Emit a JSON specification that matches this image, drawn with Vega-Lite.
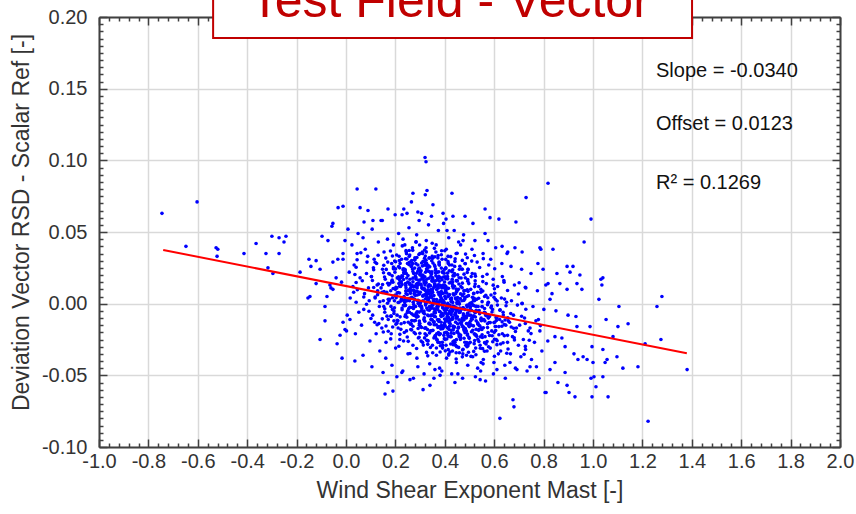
{
"$schema": "https://vega.github.io/schema/vega-lite/v6.json",
"width": 741, "height": 430,
"autosize": {"type": "none"},
"padding": {"left": 99, "top": 17, "right": 16, "bottom": 67},
"background": "white",
"config": {
  "view": {"stroke": null},
  "font": "Liberation Sans",
  "axis": {"domainColor": "#404040", "domainWidth": 2, "tickColor": "#404040", "tickWidth": 1.5, "labelFontSize": 20, "labelColor": "#333333", "titleFontSize": 23, "titleFontWeight": "normal", "titleColor": "#333333", "labelFlush": false, "labelOverlap": false, "labelBound": false, "gridColor": "#d9d9d9", "gridWidth": 1.5}
},
"datasets": {
"pts": [
{"x":-0.745,"y":0.063},{"x":-0.603,"y":0.071},{"x":-0.648,"y":0.040},{"x":-0.526,"y":0.039},{"x":-0.519,"y":0.038},{"x":-0.522,"y":0.033},{"x":-0.413,"y":0.035},{"x":-0.364,"y":0.042},{"x":-0.300,"y":0.047},{"x":-0.271,"y":0.046},{"x":-0.243,"y":0.047},{"x":-0.251,"y":0.043},{"x":-0.324,"y":0.035},{"x":-0.271,"y":0.035},{"x":-0.316,"y":0.025},{"x":-0.296,"y":0.021},{"x":-0.186,"y":0.022},{"x":-0.150,"y":0.031},{"x":-0.142,"y":0.026},{"x":-0.121,"y":0.030},{"x":-0.097,"y":0.047},{"x":-0.105,"y":0.024},{"x":-0.073,"y":0.044},{"x":-0.057,"y":0.054},{"x":-0.053,"y":0.056},{"x":-0.032,"y":0.067},{"x":-0.012,"y":0.068},{"x":0.045,"y":0.080},{"x":0.121,"y":0.080},{"x":0.057,"y":0.067},{"x":0.089,"y":0.065},{"x":0.073,"y":0.057},{"x":0.109,"y":0.058},{"x":0.142,"y":0.058},{"x":0.170,"y":0.066},{"x":0.271,"y":0.077},{"x":0.328,"y":0.079},{"x":0.320,"y":0.102},{"x":0.324,"y":0.099},{"x":0.227,"y":0.062},{"x":0.247,"y":0.063},{"x":0.291,"y":0.064},
{"x":-0.146,"y":0.005},{"x":-0.154,"y":0.004},{"x":-0.121,"y":0.014},{"x":-0.085,"y":-0.002},{"x":-0.077,"y":0.005},{"x":-0.061,"y":0.011},{"x":-0.040,"y":0.018},{"x":-0.085,"y":-0.012},{"x":-0.105,"y":-0.025},{"x":-0.036,"y":-0.028},{"x":-0.016,"y":-0.038},{"x":0.036,"y":-0.040},{"x":0.069,"y":-0.036},{"x":0.105,"y":-0.044},{"x":0.150,"y":-0.048},{"x":0.158,"y":-0.063},{"x":0.190,"y":-0.061},{"x":0.206,"y":-0.051},{"x":-0.004,"y":-0.018},{"x":0.016,"y":-0.011},{"x":-0.024,"y":-0.022},{"x":-0.053,"y":0.010},{"x":-0.065,"y":0.013},{"x":-0.012,"y":-0.013},{"x":-0.053,"y":0.029},{"x":-0.012,"y":0.035},{"x":-0.033,"y":0.031},
{"x":0.429,"y":0.077},{"x":0.352,"y":0.069},{"x":0.405,"y":0.059},{"x":0.393,"y":0.063},{"x":0.433,"y":0.061},{"x":0.482,"y":0.061},{"x":0.409,"y":0.051},{"x":0.514,"y":0.056},{"x":0.563,"y":0.066},{"x":0.583,"y":0.060},{"x":0.619,"y":0.059},{"x":0.563,"y":0.049},{"x":0.474,"y":0.044},{"x":0.522,"y":0.044},{"x":0.632,"y":0.040},{"x":0.652,"y":0.035},{"x":0.713,"y":0.036},{"x":0.729,"y":0.074},{"x":0.688,"y":0.057},{"x":0.785,"y":0.039},{"x":0.838,"y":0.038},{"x":0.789,"y":0.038},{"x":0.818,"y":0.084},{"x":0.992,"y":0.059},{"x":0.964,"y":0.043},
{"x":1.279,"y":0.005},{"x":1.259,"y":-0.002},{"x":1.275,"y":-0.025},{"x":1.211,"y":-0.028},{"x":1.381,"y":-0.046},{"x":1.223,"y":-0.082},{"x":1.182,"y":-0.044},{"x":1.121,"y":-0.045},{"x":1.105,"y":-0.002},{"x":1.142,"y":-0.014},{"x":1.101,"y":-0.016},{"x":1.097,"y":-0.037},{"x":1.061,"y":-0.065},{"x":1.040,"y":0.018},{"x":1.036,"y":0.013},{"x":1.032,"y":0.017},{"x":1.024,"y":0.003},{"x":1.053,"y":-0.011},{"x":1.081,"y":-0.023},{"x":1.040,"y":-0.032},{"x":1.049,"y":-0.041},{"x":1.057,"y":-0.039},{"x":1.000,"y":-0.041},{"x":0.996,"y":-0.030},{"x":0.988,"y":-0.016},{"x":0.996,"y":-0.065},{"x":1.012,"y":-0.058},{"x":0.992,"y":-0.052},{"x":1.004,"y":-0.051},{"x":1.040,"y":-0.051},{"x":0.927,"y":-0.065},{"x":0.903,"y":-0.062},{"x":0.895,"y":-0.057},{"x":0.858,"y":-0.055},{"x":0.887,"y":-0.048},{"x":0.810,"y":-0.062},{"x":0.781,"y":-0.052},{"x":0.826,"y":-0.046},{"x":0.846,"y":-0.041},{"x":0.923,"y":-0.035},{"x":0.939,"y":-0.039},{"x":0.960,"y":-0.037},{"x":0.976,"y":-0.039},{"x":0.935,"y":-0.016},{"x":0.931,"y":-0.009},{"x":0.899,"y":-0.008},{"x":0.895,"y":0.010},{"x":0.955,"y":0.010},{"x":0.935,"y":0.014},{"x":0.895,"y":0.026},{"x":0.919,"y":0.026},{"x":0.907,"y":0.022},{"x":0.947,"y":0.020},{"x":0.866,"y":0.014},{"x":0.854,"y":0.021},{"x":0.818,"y":0.014},{"x":0.834,"y":0.007},{"x":0.826,"y":0.003},{"x":0.850,"y":-0.005},{"x":0.846,"y":-0.023},{"x":0.874,"y":-0.024},{"x":0.887,"y":-0.030},{"x":0.777,"y":0.028},{"x":0.676,"y":-0.067},{"x":0.680,"y":-0.072},{"x":0.623,"y":-0.080},{"x":0.611,"y":-0.046},{"x":0.547,"y":-0.041},{"x":0.555,"y":-0.042},{"x":0.543,"y":-0.053},{"x":0.441,"y":-0.055},{"x":0.453,"y":-0.049},{"x":0.692,"y":-0.046},{"x":0.745,"y":-0.044},
{"x":0.259,"y":-0.053},{"x":0.340,"y":-0.057},{"x":0.170,"y":-0.055},{"x":0.291,"y":-0.044},{"x":0.381,"y":-0.050},{"x":0.664,"y":-0.041},{"x":0.806,"y":-0.062},{"x":0.230,"y":-0.047},{"x":0.312,"y":-0.060},{"x":0.360,"y":-0.046},
{"x":-0.012,"y":0.031},{"x":0.005,"y":-0.008},{"x":0.013,"y":0.022},{"x":-0.004,"y":0.044},{"x":0.017,"y":0.004},{"x":0.008,"y":0.052},{"x":-0.018,"y":0.015},{"x":0.002,"y":-0.019},
{"x":0.028,"y":0.012},{"x":0.045,"y":0.035},{"x":0.052,"y":-0.006},{"x":0.033,"y":0.027},{"x":0.041,"y":0.001},{"x":0.057,"y":0.018},{"x":0.024,"y":0.041},{"x":0.038,"y":-0.021},{"x":0.049,"y":0.049},{"x":0.031,"y":0.008},
{"x":0.066,"y":0.016},{"x":0.072,"y":-0.004},{"x":0.085,"y":0.029},{"x":0.091,"y":0.011},{"x":0.078,"y":0.038},{"x":0.063,"y":-0.015},{"x":0.094,"y":0.002},{"x":0.083,"y":0.021},{"x":0.069,"y":0.046},{"x":0.097,"y":-0.026},{"x":0.075,"y":0.007},{"x":0.088,"y":0.033},
{"x":0.103,"y":0.019},{"x":0.108,"y":-0.008},{"x":0.114,"y":0.031},{"x":0.118,"y":0.004},{"x":0.122,"y":-0.021},{"x":0.126,"y":0.013},{"x":0.131,"y":0.043},{"x":0.135,"y":-0.002},{"x":0.111,"y":0.025},{"x":0.128,"y":0.009},{"x":0.137,"y":-0.033},{"x":0.106,"y":0.052},{"x":0.124,"y":0.028},{"x":0.116,"y":-0.013},
{"x":0.142,"y":0.011},{"x":0.145,"y":-0.017},{"x":0.148,"y":0.024},{"x":0.151,"y":0.002},{"x":0.154,"y":0.036},{"x":0.157,"y":-0.006},{"x":0.159,"y":0.017},{"x":0.162,"y":-0.027},{"x":0.165,"y":0.008},{"x":0.168,"y":0.045},{"x":0.171,"y":-0.011},{"x":0.173,"y":0.021},{"x":0.176,"y":0.003},{"x":0.147,"y":0.058},{"x":0.161,"y":-0.038},{"x":0.169,"y":0.029},{"x":0.153,"y":-0.002},{"x":0.178,"y":0.014},
{"x":0.181,"y":0.009},{"x":0.183,"y":-0.021},{"x":0.185,"y":0.028},{"x":0.188,"y":-0.004},{"x":0.190,"y":0.015},{"x":0.192,"y":0.041},{"x":0.194,"y":-0.012},{"x":0.196,"y":0.002},{"x":0.198,"y":0.022},{"x":0.201,"y":-0.031},{"x":0.203,"y":0.006},{"x":0.205,"y":0.034},{"x":0.207,"y":-0.008},{"x":0.209,"y":0.018},{"x":0.211,"y":-0.017},{"x":0.213,"y":0.049},{"x":0.215,"y":0.001},{"x":0.217,"y":0.025},{"x":0.186,"y":-0.043},{"x":0.199,"y":0.062},{"x":0.206,"y":0.011},{"x":0.218,"y":-0.025},
{"x":0.221,"y":0.012},{"x":0.223,"y":-0.014},{"x":0.225,"y":0.031},{"x":0.227,"y":-0.003},{"x":0.229,"y":0.019},{"x":0.231,"y":0.045},{"x":0.233,"y":-0.026},{"x":0.235,"y":0.005},{"x":0.237,"y":0.024},{"x":0.239,"y":-0.009},{"x":0.241,"y":0.014},{"x":0.243,"y":0.037},{"x":0.245,"y":-0.019},{"x":0.247,"y":0.002},{"x":0.249,"y":0.028},{"x":0.251,"y":-0.035},{"x":0.253,"y":0.009},{"x":0.255,"y":0.053},{"x":0.257,"y":-0.006},{"x":0.259,"y":0.017},{"x":0.226,"y":-0.048},{"x":0.234,"y":0.066},{"x":0.244,"y":0.021},{"x":0.252,"y":-0.013},{"x":0.238,"y":0.041},{"x":0.256,"y":0.033},
{"x":0.261,"y":0.004},{"x":0.262,"y":-0.018},{"x":0.264,"y":0.026},{"x":0.266,"y":-0.007},{"x":0.267,"y":0.013},{"x":0.269,"y":0.039},{"x":0.271,"y":-0.029},{"x":0.272,"y":0.001},{"x":0.274,"y":0.021},{"x":0.276,"y":-0.012},{"x":0.277,"y":0.009},{"x":0.279,"y":0.032},{"x":0.281,"y":-0.021},{"x":0.282,"y":-0.002},{"x":0.284,"y":0.017},{"x":0.286,"y":0.048},{"x":0.287,"y":-0.038},{"x":0.289,"y":0.006},{"x":0.291,"y":0.027},{"x":0.292,"y":-0.009},{"x":0.294,"y":0.014},{"x":0.296,"y":0.058},{"x":0.297,"y":-0.015},{"x":0.299,"y":0.035},{"x":0.265,"y":0.071},{"x":0.273,"y":-0.052},{"x":0.283,"y":0.043},{"x":0.293,"y":-0.024},{"x":0.278,"y":0.003},{"x":0.288,"y":0.011},
{"x":0.301,"y":0.008},{"x":0.302,"y":-0.016},{"x":0.304,"y":0.023},{"x":0.305,"y":-0.005},{"x":0.307,"y":0.011},{"x":0.309,"y":0.036},{"x":0.310,"y":-0.027},{"x":0.312,"y":0.002},{"x":0.313,"y":0.018},{"x":0.315,"y":-0.011},{"x":0.317,"y":0.006},{"x":0.318,"y":0.029},{"x":0.320,"y":-0.021},{"x":0.322,"y":-0.001},{"x":0.323,"y":0.015},{"x":0.325,"y":0.044},{"x":0.326,"y":-0.034},{"x":0.328,"y":0.004},{"x":0.330,"y":0.025},{"x":0.331,"y":-0.008},{"x":0.333,"y":0.012},{"x":0.334,"y":0.055},{"x":0.336,"y":-0.014},{"x":0.337,"y":0.032},{"x":0.339,"y":-0.042},{"x":0.306,"y":0.063},{"x":0.316,"y":-0.049},{"x":0.324,"y":0.039},{"x":0.332,"y":-0.026},{"x":0.311,"y":0.020},{"x":0.321,"y":0.076},{"x":0.338,"y":0.009},
{"x":0.341,"y":0.005},{"x":0.342,"y":-0.019},{"x":0.344,"y":0.021},{"x":0.345,"y":-0.008},{"x":0.347,"y":0.009},{"x":0.349,"y":0.033},{"x":0.350,"y":-0.029},{"x":0.352,"y":-0.001},{"x":0.353,"y":0.016},{"x":0.355,"y":-0.013},{"x":0.357,"y":0.003},{"x":0.358,"y":0.027},{"x":0.360,"y":-0.023},{"x":0.362,"y":-0.004},{"x":0.363,"y":0.012},{"x":0.365,"y":0.041},{"x":0.366,"y":-0.036},{"x":0.368,"y":0.001},{"x":0.370,"y":0.022},{"x":0.371,"y":-0.011},{"x":0.373,"y":0.008},{"x":0.374,"y":0.051},{"x":0.376,"y":-0.016},{"x":0.377,"y":0.029},{"x":0.379,"y":-0.045},{"x":0.346,"y":0.061},{"x":0.356,"y":-0.052},{"x":0.364,"y":0.036},{"x":0.372,"y":-0.027},{"x":0.351,"y":0.018},{"x":0.361,"y":-0.006},{"x":0.378,"y":0.013},
{"x":0.381,"y":0.002},{"x":0.382,"y":-0.021},{"x":0.384,"y":0.018},{"x":0.386,"y":-0.009},{"x":0.387,"y":0.007},{"x":0.389,"y":0.031},{"x":0.391,"y":-0.031},{"x":0.392,"y":-0.003},{"x":0.394,"y":0.013},{"x":0.396,"y":-0.015},{"x":0.397,"y":0.001},{"x":0.399,"y":0.024},{"x":0.401,"y":-0.025},{"x":0.402,"y":-0.006},{"x":0.404,"y":0.009},{"x":0.406,"y":0.038},{"x":0.407,"y":-0.038},{"x":0.409,"y":-0.001},{"x":0.411,"y":0.019},{"x":0.412,"y":-0.012},{"x":0.414,"y":0.005},{"x":0.416,"y":0.046},{"x":0.417,"y":-0.018},{"x":0.419,"y":0.027},{"x":0.388,"y":-0.047},{"x":0.395,"y":0.056},{"x":0.405,"y":-0.029},{"x":0.413,"y":0.033},{"x":0.398,"y":0.011},{"x":0.385,"y":-0.013},
{"x":0.421,"y":-0.001},{"x":0.422,"y":-0.023},{"x":0.424,"y":0.015},{"x":0.426,"y":-0.011},{"x":0.427,"y":0.004},{"x":0.429,"y":0.027},{"x":0.431,"y":-0.033},{"x":0.432,"y":-0.005},{"x":0.434,"y":0.011},{"x":0.436,"y":-0.017},{"x":0.437,"y":-0.002},{"x":0.439,"y":0.021},{"x":0.441,"y":-0.027},{"x":0.442,"y":-0.008},{"x":0.444,"y":0.007},{"x":0.446,"y":0.035},{"x":0.447,"y":-0.041},{"x":0.449,"y":-0.003},{"x":0.451,"y":0.016},{"x":0.452,"y":-0.014},{"x":0.454,"y":0.002},{"x":0.456,"y":0.043},{"x":0.457,"y":-0.021},{"x":0.459,"y":0.024},{"x":0.428,"y":-0.049},{"x":0.438,"y":0.051},{"x":0.448,"y":-0.030},{"x":0.455,"y":0.010},
{"x":0.461,"y":-0.003},{"x":0.463,"y":-0.025},{"x":0.465,"y":0.012},{"x":0.467,"y":-0.013},{"x":0.469,"y":0.002},{"x":0.471,"y":0.024},{"x":0.473,"y":-0.035},{"x":0.475,"y":-0.007},{"x":0.477,"y":0.009},{"x":0.479,"y":-0.019},{"x":0.481,"y":-0.004},{"x":0.483,"y":0.018},{"x":0.485,"y":-0.029},{"x":0.487,"y":-0.010},{"x":0.489,"y":0.005},{"x":0.491,"y":0.032},{"x":0.493,"y":-0.043},{"x":0.495,"y":-0.001},{"x":0.497,"y":0.014},{"x":0.499,"y":-0.016},{"x":0.464,"y":0.041},{"x":0.472,"y":-0.052},{"x":0.482,"y":0.028},{"x":0.492,"y":-0.022},{"x":0.476,"y":0.048},{"x":0.488,"y":-0.036},
{"x":0.501,"y":-0.005},{"x":0.503,"y":-0.027},{"x":0.505,"y":0.010},{"x":0.507,"y":-0.015},{"x":0.509,"y":0.000},{"x":0.511,"y":0.021},{"x":0.513,"y":-0.037},{"x":0.515,"y":-0.009},{"x":0.517,"y":0.007},{"x":0.519,"y":-0.021},{"x":0.521,"y":-0.006},{"x":0.523,"y":0.016},{"x":0.525,"y":-0.031},{"x":0.527,"y":-0.012},{"x":0.529,"y":0.003},{"x":0.531,"y":0.029},{"x":0.533,"y":-0.045},{"x":0.535,"y":-0.002},{"x":0.537,"y":0.012},{"x":0.539,"y":-0.018},{"x":0.510,"y":0.038},{"x":0.524,"y":-0.051},
{"x":0.541,"y":-0.007},{"x":0.543,"y":-0.029},{"x":0.546,"y":0.008},{"x":0.548,"y":-0.017},{"x":0.551,"y":-0.002},{"x":0.553,"y":0.019},{"x":0.556,"y":-0.039},{"x":0.558,"y":-0.011},{"x":0.561,"y":0.005},{"x":0.563,"y":-0.023},{"x":0.566,"y":-0.008},{"x":0.568,"y":0.014},{"x":0.571,"y":-0.033},{"x":0.573,"y":-0.014},{"x":0.576,"y":0.001},{"x":0.578,"y":0.027},{"x":0.545,"y":-0.047},{"x":0.555,"y":0.035},{"x":0.565,"y":-0.054},{"x":0.575,"y":0.044},
{"x":0.581,"y":-0.009},{"x":0.584,"y":-0.031},{"x":0.587,"y":0.006},{"x":0.590,"y":-0.019},{"x":0.593,"y":-0.004},{"x":0.596,"y":0.017},{"x":0.599,"y":-0.041},{"x":0.602,"y":-0.013},{"x":0.605,"y":0.003},{"x":0.608,"y":-0.025},{"x":0.611,"y":-0.010},{"x":0.614,"y":0.012},{"x":0.617,"y":-0.035},{"x":0.619,"y":-0.016},{"x":0.586,"y":0.031},{"x":0.597,"y":-0.049},{"x":0.606,"y":0.039},{"x":0.613,"y":-0.001},
{"x":0.622,"y":-0.011},{"x":0.626,"y":-0.033},{"x":0.629,"y":0.004},{"x":0.633,"y":-0.021},{"x":0.636,"y":-0.006},{"x":0.640,"y":0.015},{"x":0.643,"y":-0.043},{"x":0.647,"y":-0.015},{"x":0.650,"y":0.001},{"x":0.654,"y":-0.027},{"x":0.657,"y":-0.012},{"x":0.631,"y":0.028},{"x":0.645,"y":-0.052},{"x":0.655,"y":0.036},
{"x":0.662,"y":-0.013},{"x":0.666,"y":-0.035},{"x":0.670,"y":0.002},{"x":0.674,"y":-0.023},{"x":0.678,"y":-0.008},{"x":0.682,"y":0.013},{"x":0.686,"y":-0.045},{"x":0.690,"y":-0.017},{"x":0.694,"y":-0.001},{"x":0.698,"y":-0.029},{"x":0.668,"y":0.026},{"x":0.684,"y":0.039},
{"x":0.703,"y":-0.015},{"x":0.708,"y":-0.037},{"x":0.713,"y":0.000},{"x":0.718,"y":-0.025},{"x":0.723,"y":-0.010},{"x":0.728,"y":0.011},{"x":0.733,"y":-0.047},{"x":0.738,"y":-0.019},{"x":0.711,"y":0.024},{"x":0.727,"y":-0.032},
{"x":0.745,"y":-0.017},{"x":0.751,"y":-0.039},{"x":0.757,"y":-0.002},{"x":0.763,"y":-0.027},{"x":0.769,"y":-0.012},{"x":0.775,"y":0.009},{"x":0.749,"y":0.021},{"x":0.771,"y":-0.044},
{"x":0.785,"y":-0.019},{"x":0.793,"y":-0.033},{"x":0.801,"y":-0.004},{"x":0.809,"y":0.013},{"x":0.817,"y":-0.026},{"x":0.798,"y":0.024},
{"x":0.06,"y":0.0355},{"x":0.13,"y":0.0338},{"x":0.18,"y":0.0367},{"x":0.215,"y":0.0331},{"x":0.245,"y":0.0349},{"x":0.27,"y":0.0372},{"x":0.295,"y":0.0343},{"x":0.325,"y":0.0361},{"x":0.36,"y":0.0327},{"x":0.40,"y":0.0369},{"x":0.45,"y":0.0352},{"x":0.52,"y":0.0336},
{"x":0.045,"y":0.0306},{"x":0.118,"y":0.0289},{"x":0.161,"y":0.0318},{"x":0.197,"y":0.0297},{"x":0.219,"y":0.0281},{"x":0.247,"y":0.0312},{"x":0.263,"y":0.0293},{"x":0.287,"y":0.0322},{"x":0.306,"y":0.0284},{"x":0.324,"y":0.0303},{"x":0.351,"y":0.0317},{"x":0.377,"y":0.0286},{"x":0.404,"y":0.0309},{"x":0.441,"y":0.0295},{"x":0.483,"y":0.0278},{"x":0.556,"y":0.0314},
{"x":0.041,"y":0.0254},{"x":0.112,"y":0.0237},{"x":0.153,"y":0.0268},{"x":0.192,"y":0.0243},{"x":0.213,"y":0.0259},{"x":0.239,"y":0.0231},{"x":0.256,"y":0.0272},{"x":0.278,"y":0.0248},{"x":0.291,"y":0.0226},{"x":0.309,"y":0.0263},{"x":0.326,"y":0.0241},{"x":0.339,"y":0.0257},{"x":0.362,"y":0.0234},{"x":0.378,"y":0.0269},{"x":0.404,"y":0.0246},{"x":0.428,"y":0.0228},{"x":0.461,"y":0.0261},{"x":0.494,"y":0.0239},{"x":0.541,"y":0.0252},{"x":0.602,"y":0.0244},
{"x":0.036,"y":0.0203},{"x":0.103,"y":0.0188},{"x":0.152,"y":0.0216},{"x":0.187,"y":0.0194},{"x":0.208,"y":0.0179},{"x":0.235,"y":0.0211},{"x":0.251,"y":0.0197},{"x":0.271,"y":0.0224},{"x":0.283,"y":0.0183},{"x":0.299,"y":0.0206},{"x":0.312,"y":0.0191},{"x":0.322,"y":0.0219},{"x":0.336,"y":0.0177},{"x":0.347,"y":0.0208},{"x":0.364,"y":0.0195},{"x":0.376,"y":0.0222},{"x":0.395,"y":0.0186},{"x":0.411,"y":0.0213},{"x":0.437,"y":0.0199},{"x":0.458,"y":0.0181},{"x":0.491,"y":0.0217},{"x":0.524,"y":0.0192},{"x":0.571,"y":0.0205},{"x":0.633,"y":0.0189},
{"x":0.041,"y":0.0148},{"x":0.107,"y":0.0162},{"x":0.148,"y":0.0133},{"x":0.186,"y":0.0157},{"x":0.214,"y":0.0141},{"x":0.233,"y":0.0169},{"x":0.257,"y":0.0136},{"x":0.271,"y":0.0153},{"x":0.289,"y":0.0128},{"x":0.299,"y":0.0164},{"x":0.316,"y":0.0145},{"x":0.327,"y":0.0171},{"x":0.336,"y":0.0131},{"x":0.349,"y":0.0156},{"x":0.358,"y":0.0139},{"x":0.372,"y":0.0166},{"x":0.383,"y":0.0127},{"x":0.399,"y":0.0151},{"x":0.412,"y":0.0173},{"x":0.431,"y":0.0134},{"x":0.448,"y":0.0159},{"x":0.471,"y":0.0143},{"x":0.493,"y":0.0168},{"x":0.523,"y":0.0137},{"x":0.554,"y":0.0154},{"x":0.596,"y":0.0129},{"x":0.639,"y":0.0161},{"x":0.701,"y":0.0146},
{"x":0.046,"y":0.0097},{"x":0.112,"y":0.0113},{"x":0.154,"y":0.0084},{"x":0.191,"y":0.0106},{"x":0.217,"y":0.0121},{"x":0.242,"y":0.0089},{"x":0.259,"y":0.0102},{"x":0.279,"y":0.0118},{"x":0.293,"y":0.0081},{"x":0.309,"y":0.0109},{"x":0.32,"y":0.0093},{"x":0.334,"y":0.0124},{"x":0.343,"y":0.0087},{"x":0.356,"y":0.0114},{"x":0.367,"y":0.0099},{"x":0.378,"y":0.0078},{"x":0.388,"y":0.0116},{"x":0.403,"y":0.0091},{"x":0.415,"y":0.0107},{"x":0.432,"y":0.0122},{"x":0.448,"y":0.0083},{"x":0.47,"y":0.0111},{"x":0.491,"y":0.0096},{"x":0.521,"y":0.0119},{"x":0.554,"y":0.0088},{"x":0.601,"y":0.0104},{"x":0.654,"y":0.0092},{"x":0.726,"y":0.0115},{"x":0.351,"y":0.0079},{"x":0.372,"y":0.0123},
{"x":0.072,"y":0.0047},{"x":0.128,"y":0.0063},{"x":0.171,"y":0.0031},{"x":0.198,"y":0.0058},{"x":0.226,"y":0.0039},{"x":0.243,"y":0.0071},{"x":0.267,"y":0.0044},{"x":0.279,"y":0.0026},{"x":0.297,"y":0.0066},{"x":0.311,"y":0.0052},{"x":0.322,"y":0.0034},{"x":0.336,"y":0.0069},{"x":0.347,"y":0.0041},{"x":0.356,"y":0.0057},{"x":0.367,"y":0.0029},{"x":0.376,"y":0.0064},{"x":0.383,"y":0.0048},{"x":0.394,"y":0.0073},{"x":0.404,"y":0.0036},{"x":0.413,"y":0.0054},{"x":0.427,"y":0.0027},{"x":0.437,"y":0.0061},{"x":0.452,"y":0.0043},{"x":0.464,"y":0.0068},{"x":0.481,"y":0.0033},{"x":0.496,"y":0.0056},{"x":0.517,"y":0.0072},{"x":0.537,"y":0.0038},{"x":0.566,"y":0.0059},{"x":0.599,"y":0.0045},{"x":0.642,"y":0.0032},{"x":0.698,"y":0.0067},
{"x":0.083,"y":-0.0004},{"x":0.137,"y":0.0013},{"x":0.182,"y":-0.0019},{"x":0.211,"y":0.0008},{"x":0.233,"y":-0.0011},{"x":0.257,"y":0.0021},{"x":0.274,"y":-0.0006},{"x":0.292,"y":0.0017},{"x":0.304,"y":-0.0023},{"x":0.322,"y":0.0004},{"x":0.331,"y":0.0019},{"x":0.347,"y":-0.0014},{"x":0.355,"y":0.0011},{"x":0.368,"y":-0.0021},{"x":0.374,"y":0.0006},{"x":0.387,"y":-0.0009},{"x":0.393,"y":0.0024},{"x":0.406,"y":-0.0017},{"x":0.412,"y":0.0002},{"x":0.426,"y":0.0015},{"x":0.434,"y":-0.0026},{"x":0.449,"y":0.0009},{"x":0.459,"y":-0.0003},{"x":0.477,"y":0.0022},{"x":0.489,"y":-0.0012},{"x":0.509,"y":0.0007},{"x":0.524,"y":-0.0018},{"x":0.551,"y":0.0014},{"x":0.573,"y":-0.0007},{"x":0.612,"y":0.0019},{"x":0.648,"y":-0.0015},{"x":0.713,"y":0.0003},
{"x":0.093,"y":-0.0053},{"x":0.157,"y":-0.0036},{"x":0.194,"y":-0.0069},{"x":0.227,"y":-0.0042},{"x":0.248,"y":-0.0061},{"x":0.272,"y":-0.0029},{"x":0.288,"y":-0.0057},{"x":0.307,"y":-0.0033},{"x":0.318,"y":-0.0071},{"x":0.337,"y":-0.0046},{"x":0.346,"y":-0.0031},{"x":0.362,"y":-0.0064},{"x":0.371,"y":-0.0038},{"x":0.381,"y":-0.0056},{"x":0.392,"y":-0.0027},{"x":0.401,"y":-0.0067},{"x":0.407,"y":-0.0044},{"x":0.421,"y":-0.0059},{"x":0.427,"y":-0.0032},{"x":0.441,"y":-0.0073},{"x":0.452,"y":-0.0041},{"x":0.462,"y":-0.0054},{"x":0.474,"y":-0.0028},{"x":0.492,"y":-0.0066},{"x":0.503,"y":-0.0037},{"x":0.524,"y":-0.0062},{"x":0.539,"y":-0.0048},{"x":0.561,"y":-0.0034},{"x":0.591,"y":-0.0058},{"x":0.624,"y":-0.0043},{"x":0.667,"y":-0.0069},{"x":0.728,"y":-0.0039},
{"x":0.101,"y":-0.0103},{"x":0.166,"y":-0.0087},{"x":0.208,"y":-0.0116},{"x":0.246,"y":-0.0094},{"x":0.272,"y":-0.0079},{"x":0.297,"y":-0.0121},{"x":0.317,"y":-0.0098},{"x":0.334,"y":-0.0084},{"x":0.349,"y":-0.0112},{"x":0.362,"y":-0.0091},{"x":0.376,"y":-0.0124},{"x":0.388,"y":-0.0082},{"x":0.399,"y":-0.0107},{"x":0.41,"y":-0.0089},{"x":0.421,"y":-0.0118},{"x":0.432,"y":-0.0096},{"x":0.444,"y":-0.0077},{"x":0.457,"y":-0.0113},{"x":0.471,"y":-0.0101},{"x":0.487,"y":-0.0086},{"x":0.504,"y":-0.0122},{"x":0.524,"y":-0.0093},{"x":0.547,"y":-0.0109},{"x":0.574,"y":-0.0081},{"x":0.609,"y":-0.0117},{"x":0.655,"y":-0.0099},{"x":0.711,"y":-0.0088},{"x":0.779,"y":-0.0111},{"x":0.404,"y":-0.0123},{"x":0.426,"y":-0.0078},
{"x":0.126,"y":-0.0147},{"x":0.189,"y":-0.0163},{"x":0.236,"y":-0.0132},{"x":0.271,"y":-0.0158},{"x":0.297,"y":-0.0139},{"x":0.319,"y":-0.0171},{"x":0.341,"y":-0.0144},{"x":0.357,"y":-0.0127},{"x":0.372,"y":-0.0166},{"x":0.386,"y":-0.0152},{"x":0.399,"y":-0.0135},{"x":0.411,"y":-0.0169},{"x":0.422,"y":-0.0141},{"x":0.433,"y":-0.0157},{"x":0.444,"y":-0.0129},{"x":0.456,"y":-0.0164},{"x":0.469,"y":-0.0149},{"x":0.483,"y":-0.0173},{"x":0.498,"y":-0.0136},{"x":0.516,"y":-0.0155},{"x":0.534,"y":-0.0142},{"x":0.556,"y":-0.0168},{"x":0.579,"y":-0.0131},{"x":0.607,"y":-0.0159},{"x":0.641,"y":-0.0145},{"x":0.679,"y":-0.0172},{"x":0.726,"y":-0.0138},{"x":0.787,"y":-0.0153},
{"x":0.151,"y":-0.0198},{"x":0.218,"y":-0.0214},{"x":0.266,"y":-0.0183},{"x":0.299,"y":-0.0206},{"x":0.326,"y":-0.0221},{"x":0.347,"y":-0.0189},{"x":0.367,"y":-0.0211},{"x":0.384,"y":-0.0177},{"x":0.399,"y":-0.0203},{"x":0.412,"y":-0.0219},{"x":0.426,"y":-0.0186},{"x":0.437,"y":-0.0208},{"x":0.451,"y":-0.0193},{"x":0.463,"y":-0.0224},{"x":0.477,"y":-0.0181},{"x":0.492,"y":-0.0212},{"x":0.508,"y":-0.0196},{"x":0.527,"y":-0.0179},{"x":0.551,"y":-0.0217},{"x":0.575,"y":-0.0201},{"x":0.606,"y":-0.0188},{"x":0.641,"y":-0.0223},{"x":0.686,"y":-0.0194},{"x":0.749,"y":-0.0209},
{"x":0.181,"y":-0.0246},{"x":0.252,"y":-0.0263},{"x":0.296,"y":-0.0234},{"x":0.331,"y":-0.0258},{"x":0.356,"y":-0.0239},{"x":0.379,"y":-0.0271},{"x":0.398,"y":-0.0244},{"x":0.415,"y":-0.0229},{"x":0.433,"y":-0.0266},{"x":0.447,"y":-0.0251},{"x":0.464,"y":-0.0236},{"x":0.481,"y":-0.0269},{"x":0.499,"y":-0.0242},{"x":0.521,"y":-0.0257},{"x":0.544,"y":-0.0231},{"x":0.571,"y":-0.0264},{"x":0.601,"y":-0.0248},{"x":0.636,"y":-0.0273},{"x":0.681,"y":-0.0238},{"x":0.742,"y":-0.0255},
{"x":0.214,"y":-0.0297},{"x":0.286,"y":-0.0313},{"x":0.331,"y":-0.0284},{"x":0.366,"y":-0.0309},{"x":0.391,"y":-0.0291},{"x":0.414,"y":-0.0321},{"x":0.434,"y":-0.0287},{"x":0.456,"y":-0.0305},{"x":0.474,"y":-0.0318},{"x":0.494,"y":-0.0293},{"x":0.519,"y":-0.0279},{"x":0.544,"y":-0.0311},{"x":0.577,"y":-0.0301},{"x":0.611,"y":-0.0286},{"x":0.656,"y":-0.0316},{"x":0.726,"y":-0.0298},
{"x":0.259,"y":-0.0348},{"x":0.331,"y":-0.0364},{"x":0.381,"y":-0.0337},{"x":0.416,"y":-0.0359},{"x":0.446,"y":-0.0342},{"x":0.471,"y":-0.0371},{"x":0.496,"y":-0.0339},{"x":0.526,"y":-0.0356},{"x":0.561,"y":-0.0332},{"x":0.601,"y":-0.0367},{"x":0.651,"y":-0.0346},{"x":0.721,"y":-0.0353},
{"x":0.250,"y":0.0150},{"x":0.281,"y":0.0192},{"x":0.223,"y":0.0183},{"x":0.304,"y":0.0129},{"x":0.202,"y":0.0114},{"x":0.262,"y":0.0091},{"x":0.234,"y":0.0218},{"x":0.319,"y":0.0187},{"x":0.187,"y":0.0164},{"x":0.276,"y":0.0069},{"x":0.211,"y":0.0078},{"x":0.332,"y":0.0097},{"x":0.173,"y":0.0131},{"x":0.294,"y":0.0236},{"x":0.242,"y":0.0126},
{"x":0.300,"y":0.0200},{"x":0.269,"y":0.0242},{"x":0.327,"y":0.0233},{"x":0.246,"y":0.0179},{"x":0.348,"y":0.0164},{"x":0.288,"y":0.0141},{"x":0.316,"y":0.0268},{"x":0.231,"y":0.0237},{"x":0.363,"y":0.0214},{"x":0.274,"y":0.0119},{"x":0.339,"y":0.0128},{"x":0.218,"y":0.0147},{"x":0.377,"y":0.0181},{"x":0.256,"y":0.0286},{"x":0.308,"y":0.0176},
{"x":0.350,"y":0.0100},{"x":0.381,"y":0.0058},{"x":0.323,"y":0.0067},{"x":0.404,"y":0.0121},{"x":0.302,"y":0.0136},{"x":0.362,"y":0.0159},{"x":0.334,"y":0.0032},{"x":0.419,"y":0.0063},{"x":0.287,"y":0.0086},{"x":0.376,"y":0.0181},{"x":0.311,"y":0.0172},{"x":0.432,"y":0.0153},{"x":0.273,"y":0.0119},{"x":0.394,"y":0.0014},{"x":0.342,"y":0.0124},
{"x":0.400,"y":0.0050},{"x":0.369,"y":0.0008},{"x":0.427,"y":0.0017},{"x":0.346,"y":0.0071},{"x":0.448,"y":0.0086},{"x":0.388,"y":0.0109},{"x":0.416,"y":-0.0018},{"x":0.331,"y":0.0013},{"x":0.463,"y":0.0036},{"x":0.374,"y":0.0131},{"x":0.439,"y":0.0122},{"x":0.318,"y":0.0103},{"x":0.477,"y":0.0069},{"x":0.356,"y":-0.0036},{"x":0.408,"y":0.0074},
{"x":0.450,"y":0.0000},{"x":0.481,"y":0.0042},{"x":0.423,"y":0.0033},{"x":0.504,"y":-0.0021},{"x":0.402,"y":-0.0036},{"x":0.462,"y":-0.0059},{"x":0.434,"y":0.0068},{"x":0.519,"y":0.0037},{"x":0.387,"y":0.0014},{"x":0.476,"y":-0.0081},{"x":0.411,"y":-0.0072},{"x":0.532,"y":-0.0053},{"x":0.373,"y":-0.0019},{"x":0.494,"y":0.0086},{"x":0.442,"y":-0.0024},
{"x":0.500,"y":-0.0080},{"x":0.469,"y":-0.0038},{"x":0.527,"y":-0.0047},{"x":0.446,"y":-0.0101},{"x":0.548,"y":-0.0116},{"x":0.488,"y":-0.0139},{"x":0.516,"y":-0.0012},{"x":0.431,"y":-0.0043},{"x":0.563,"y":-0.0066},{"x":0.474,"y":-0.0161},{"x":0.539,"y":-0.0152},{"x":0.418,"y":-0.0133},{"x":0.577,"y":-0.0099},{"x":0.456,"y":0.0006},{"x":0.508,"y":-0.0104},
{"x":0.300,"y":0.0000},{"x":0.331,"y":-0.0042},{"x":0.273,"y":-0.0033},{"x":0.354,"y":0.0021},{"x":0.252,"y":0.0036},{"x":0.312,"y":0.0059},{"x":0.284,"y":-0.0068},{"x":0.369,"y":-0.0037},{"x":0.237,"y":-0.0014},{"x":0.326,"y":0.0081},{"x":0.261,"y":0.0072},{"x":0.382,"y":0.0053},{"x":0.223,"y":0.0019},{"x":0.344,"y":-0.0086},{"x":0.292,"y":0.0024},
{"x":0.350,"y":-0.0080},{"x":0.319,"y":-0.0122},{"x":0.377,"y":-0.0113},{"x":0.296,"y":-0.0059},{"x":0.398,"y":-0.0044},{"x":0.338,"y":-0.0021},{"x":0.366,"y":-0.0148},{"x":0.281,"y":-0.0117},{"x":0.413,"y":-0.0094},{"x":0.324,"y":0.0001},{"x":0.389,"y":-0.0008},{"x":0.268,"y":-0.0027},{"x":0.427,"y":-0.0061},{"x":0.306,"y":-0.0166},{"x":0.358,"y":-0.0056},
{"x":0.400,"y":-0.0150},{"x":0.431,"y":-0.0108},{"x":0.373,"y":-0.0117},{"x":0.454,"y":-0.0171},{"x":0.352,"y":-0.0186},{"x":0.412,"y":-0.0209},{"x":0.384,"y":-0.0082},{"x":0.469,"y":-0.0113},{"x":0.337,"y":-0.0136},{"x":0.426,"y":-0.0231},{"x":0.361,"y":-0.0222},{"x":0.482,"y":-0.0203},{"x":0.323,"y":-0.0169},{"x":0.444,"y":-0.0064},{"x":0.392,"y":-0.0174},
{"x":0.450,"y":-0.0200},{"x":0.419,"y":-0.0158},{"x":0.477,"y":-0.0167},{"x":0.396,"y":-0.0221},{"x":0.498,"y":-0.0236},{"x":0.438,"y":-0.0259},{"x":0.466,"y":-0.0132},{"x":0.381,"y":-0.0163},{"x":0.513,"y":-0.0186},{"x":0.424,"y":-0.0281},{"x":0.489,"y":-0.0272},{"x":0.368,"y":-0.0253},{"x":0.527,"y":-0.0219},{"x":0.406,"y":-0.0114},{"x":0.458,"y":-0.0224},
{"x":0.550,"y":-0.0180},{"x":0.581,"y":-0.0222},{"x":0.523,"y":-0.0213},{"x":0.604,"y":-0.0159},{"x":0.502,"y":-0.0144},{"x":0.562,"y":-0.0121},{"x":0.534,"y":-0.0248},{"x":0.619,"y":-0.0217},{"x":0.487,"y":-0.0194},{"x":0.576,"y":-0.0099},{"x":0.511,"y":-0.0108},{"x":0.632,"y":-0.0127},{"x":0.473,"y":-0.0161},{"x":0.594,"y":-0.0266},{"x":0.542,"y":-0.0156},
{"x":0.250,"y":-0.0050},{"x":0.219,"y":-0.0092},{"x":0.277,"y":-0.0083},{"x":0.196,"y":-0.0029},{"x":0.298,"y":-0.0014},{"x":0.238,"y":0.0009},{"x":0.266,"y":-0.0118},{"x":0.181,"y":-0.0087},{"x":0.313,"y":-0.0064},{"x":0.224,"y":0.0031},{"x":0.289,"y":0.0022},{"x":0.168,"y":0.0003},{"x":0.327,"y":-0.0031},{"x":0.206,"y":-0.0136},{"x":0.258,"y":-0.0026},
{"x":0.200,"y":0.0100},{"x":0.169,"y":0.0142},{"x":0.227,"y":0.0133},{"x":0.146,"y":0.0079},{"x":0.248,"y":0.0064},{"x":0.188,"y":0.0041},{"x":0.216,"y":0.0168},{"x":0.131,"y":0.0137},{"x":0.263,"y":0.0114},{"x":0.174,"y":0.0019},{"x":0.239,"y":0.0028},{"x":0.118,"y":0.0047},{"x":0.277,"y":0.0081},{"x":0.156,"y":0.0186},{"x":0.208,"y":0.0076},
{"x":0.360,"y":0.0260},{"x":0.391,"y":0.0218},{"x":0.333,"y":0.0227},{"x":0.414,"y":0.0281},{"x":0.312,"y":0.0296},{"x":0.372,"y":0.0319},{"x":0.344,"y":0.0192},{"x":0.429,"y":0.0223},{"x":0.297,"y":0.0246},{"x":0.386,"y":0.0341},{"x":0.321,"y":0.0332},{"x":0.442,"y":0.0313},{"x":0.283,"y":0.0279},{"x":0.404,"y":0.0174},{"x":0.352,"y":0.0284},
{"x":0.430,"y":0.0170},{"x":0.399,"y":0.0128},{"x":0.457,"y":0.0137},{"x":0.376,"y":0.0191},{"x":0.478,"y":0.0206},{"x":0.418,"y":0.0229},{"x":0.446,"y":0.0102},{"x":0.361,"y":0.0133},{"x":0.493,"y":0.0156},{"x":0.404,"y":0.0251},{"x":0.469,"y":0.0242},{"x":0.348,"y":0.0223},{"x":0.507,"y":0.0189},{"x":0.386,"y":0.0084},{"x":0.438,"y":0.0194},
{"x":0.390,"y":-0.0270},{"x":0.421,"y":-0.0228},{"x":0.363,"y":-0.0237},{"x":0.444,"y":-0.0291},{"x":0.342,"y":-0.0306},{"x":0.402,"y":-0.0329},{"x":0.374,"y":-0.0202},{"x":0.459,"y":-0.0233},{"x":0.327,"y":-0.0256},{"x":0.416,"y":-0.0351},{"x":0.351,"y":-0.0342},{"x":0.472,"y":-0.0323},{"x":0.313,"y":-0.0289},{"x":0.434,"y":-0.0184},{"x":0.382,"y":-0.0294},
{"x":0.270,"y":0.0280},{"x":0.239,"y":0.0238},{"x":0.297,"y":0.0247},{"x":0.216,"y":0.0301},{"x":0.318,"y":0.0316},{"x":0.258,"y":0.0339},{"x":0.286,"y":0.0212},{"x":0.201,"y":0.0243},{"x":0.333,"y":0.0266},{"x":0.244,"y":0.0361},{"x":0.309,"y":0.0352},{"x":0.188,"y":0.0333},{"x":0.347,"y":0.0299},{"x":0.226,"y":0.0194},{"x":0.278,"y":0.0304},
{"x":0.320,"y":0.0130},{"x":0.351,"y":0.0172},{"x":0.293,"y":0.0163},{"x":0.374,"y":0.0109},{"x":0.272,"y":0.0094},{"x":0.332,"y":0.0071},{"x":0.304,"y":0.0198},{"x":0.389,"y":0.0167},{"x":0.257,"y":0.0144},{"x":0.346,"y":0.0049},{"x":0.281,"y":0.0058},{"x":0.402,"y":0.0077},{"x":0.243,"y":0.0111},{"x":0.364,"y":0.0216},{"x":0.312,"y":0.0106},
{"x":0.370,"y":0.0180},{"x":0.339,"y":0.0222},{"x":0.397,"y":0.0213},{"x":0.316,"y":0.0159},{"x":0.418,"y":0.0144},{"x":0.358,"y":0.0121},{"x":0.386,"y":0.0248},{"x":0.301,"y":0.0217},{"x":0.433,"y":0.0194},{"x":0.344,"y":0.0099},{"x":0.409,"y":0.0108},{"x":0.288,"y":0.0127},{"x":0.447,"y":0.0161},{"x":0.326,"y":0.0266},{"x":0.378,"y":0.0156},
{"x":0.420,"y":-0.0050},{"x":0.451,"y":-0.0092},{"x":0.393,"y":-0.0083},{"x":0.474,"y":-0.0029},{"x":0.372,"y":-0.0014},{"x":0.432,"y":0.0009},{"x":0.404,"y":-0.0118},{"x":0.489,"y":-0.0087},{"x":0.357,"y":-0.0064},{"x":0.446,"y":0.0031},{"x":0.381,"y":0.0022},{"x":0.502,"y":0.0003},{"x":0.343,"y":-0.0031},{"x":0.464,"y":-0.0136},{"x":0.412,"y":-0.0026},
{"x":0.470,"y":-0.0120},{"x":0.439,"y":-0.0162},{"x":0.497,"y":-0.0153},{"x":0.416,"y":-0.0099},{"x":0.518,"y":-0.0084},{"x":0.458,"y":-0.0061},{"x":0.486,"y":-0.0188},{"x":0.401,"y":-0.0157},{"x":0.533,"y":-0.0134},{"x":0.444,"y":-0.0039},{"x":0.509,"y":-0.0048},{"x":0.388,"y":-0.0067},{"x":0.547,"y":-0.0101},{"x":0.426,"y":-0.0206},{"x":0.478,"y":-0.0096},
{"x":0.330,"y":-0.0180},{"x":0.299,"y":-0.0138},{"x":0.357,"y":-0.0147},{"x":0.276,"y":-0.0201},{"x":0.378,"y":-0.0216},{"x":0.318,"y":-0.0239},{"x":0.346,"y":-0.0112},{"x":0.261,"y":-0.0143},{"x":0.393,"y":-0.0166},{"x":0.304,"y":-0.0261},{"x":0.369,"y":-0.0252},{"x":0.248,"y":-0.0233},{"x":0.407,"y":-0.0199},{"x":0.286,"y":-0.0094},{"x":0.338,"y":-0.0204},
{"x":0.280,"y":0.0060},{"x":0.311,"y":0.0102},{"x":0.253,"y":0.0093},{"x":0.334,"y":0.0039},{"x":0.232,"y":0.0024},{"x":0.292,"y":0.0001},{"x":0.264,"y":0.0128},{"x":0.349,"y":0.0097},{"x":0.217,"y":0.0074},{"x":0.306,"y":-0.0021},{"x":0.241,"y":-0.0012},{"x":0.362,"y":0.0007},{"x":0.203,"y":0.0041},{"x":0.324,"y":0.0146},{"x":0.272,"y":0.0036},
{"x":0.520,"y":0.0020},{"x":0.551,"y":-0.0022},{"x":0.493,"y":-0.0013},{"x":0.574,"y":0.0041},{"x":0.472,"y":0.0056},{"x":0.532,"y":0.0079},{"x":0.504,"y":-0.0048},{"x":0.589,"y":-0.0017},{"x":0.457,"y":0.0006},{"x":0.546,"y":0.0101},{"x":0.481,"y":0.0092},{"x":0.602,"y":0.0073},{"x":0.443,"y":0.0039},{"x":0.564,"y":-0.0066},{"x":0.512,"y":0.0044},
{"x":0.440,"y":0.0260},{"x":0.471,"y":0.0302},{"x":0.413,"y":0.0293},{"x":0.494,"y":0.0239},{"x":0.392,"y":0.0224},{"x":0.452,"y":0.0201},{"x":0.424,"y":0.0328},{"x":0.509,"y":0.0297},{"x":0.377,"y":0.0274},{"x":0.466,"y":0.0179},{"x":0.401,"y":0.0188},{"x":0.522,"y":0.0207},{"x":0.363,"y":0.0241},{"x":0.484,"y":0.0346},{"x":0.432,"y":0.0236},
{"x":0.240,"y":0.0220},{"x":0.271,"y":0.0178},{"x":0.213,"y":0.0187},{"x":0.294,"y":0.0241},{"x":0.192,"y":0.0256},{"x":0.252,"y":0.0279},{"x":0.224,"y":0.0152},{"x":0.309,"y":0.0183},{"x":0.177,"y":0.0206},{"x":0.266,"y":0.0301},{"x":0.201,"y":0.0292},{"x":0.322,"y":0.0273},{"x":0.163,"y":0.0239},{"x":0.284,"y":0.0134},{"x":0.232,"y":0.0244},
{"x":0.370,"y":-0.0030},{"x":0.339,"y":0.0012},{"x":0.397,"y":0.0003},{"x":0.316,"y":-0.0051},{"x":0.418,"y":-0.0066},{"x":0.358,"y":-0.0089},{"x":0.386,"y":0.0038},{"x":0.301,"y":0.0007},{"x":0.433,"y":-0.0016},{"x":0.344,"y":-0.0111},{"x":0.409,"y":-0.0102},{"x":0.288,"y":-0.0083},{"x":0.447,"y":-0.0049},{"x":0.326,"y":0.0056},{"x":0.378,"y":-0.0054},
{"x":0.490,"y":-0.0300},{"x":0.459,"y":-0.0342},{"x":0.517,"y":-0.0333},{"x":0.436,"y":-0.0279},{"x":0.538,"y":-0.0264},{"x":0.478,"y":-0.0241},{"x":0.506,"y":-0.0368},{"x":0.421,"y":-0.0337},{"x":0.553,"y":-0.0314},{"x":0.464,"y":-0.0219},{"x":0.529,"y":-0.0228},{"x":0.408,"y":-0.0247},{"x":0.567,"y":-0.0281},{"x":0.446,"y":-0.0386},{"x":0.498,"y":-0.0276},
{"x":0.560,"y":-0.0060},{"x":0.529,"y":-0.0018},{"x":0.587,"y":-0.0027},{"x":0.506,"y":-0.0081},{"x":0.608,"y":-0.0096},{"x":0.548,"y":-0.0119},{"x":0.576,"y":0.0008},{"x":0.491,"y":-0.0023},{"x":0.623,"y":-0.0046},{"x":0.534,"y":-0.0141},{"x":0.599,"y":-0.0132},{"x":0.478,"y":-0.0113},{"x":0.637,"y":-0.0079},{"x":0.516,"y":0.0026},{"x":0.568,"y":-0.0084},
{"x":0.310,"y":0.0350},{"x":0.279,"y":0.0308},{"x":0.337,"y":0.0317},{"x":0.256,"y":0.0371},{"x":0.358,"y":0.0386},{"x":0.298,"y":0.0409},{"x":0.326,"y":0.0282},{"x":0.241,"y":0.0313},{"x":0.373,"y":0.0336},{"x":0.284,"y":0.0431},{"x":0.349,"y":0.0422},{"x":0.228,"y":0.0403},{"x":0.387,"y":0.0369},{"x":0.266,"y":0.0264},{"x":0.318,"y":0.0374},
{"x":0.210,"y":-0.0120},{"x":0.241,"y":-0.0078},{"x":0.183,"y":-0.0087},{"x":0.264,"y":-0.0141},{"x":0.162,"y":-0.0156},{"x":0.222,"y":-0.0179},{"x":0.194,"y":-0.0052},{"x":0.279,"y":-0.0083},{"x":0.147,"y":-0.0106},{"x":0.236,"y":-0.0201},{"x":0.171,"y":-0.0192},{"x":0.292,"y":-0.0173},{"x":0.133,"y":-0.0139},{"x":0.254,"y":-0.0034},{"x":0.202,"y":-0.0144},
{"x":0.600,"y":-0.0200},{"x":0.631,"y":-0.0158},{"x":0.573,"y":-0.0167},{"x":0.654,"y":-0.0221},{"x":0.552,"y":-0.0236},{"x":0.612,"y":-0.0259},{"x":0.584,"y":-0.0132},{"x":0.669,"y":-0.0163},{"x":0.537,"y":-0.0186},{"x":0.626,"y":-0.0281},{"x":0.561,"y":-0.0272},{"x":0.682,"y":-0.0253},{"x":0.523,"y":-0.0219},{"x":0.644,"y":-0.0114},{"x":0.592,"y":-0.0224}
],
"fit": [{"x":-0.74,"y":0.03746},{"x":1.38,"y":-0.03462}],
"ann": [{"t":"Slope = -0.0340","x":1.255,"y":0.1581},{"t":"Offset = 0.0123","x":1.255,"y":0.1211},{"t":"R² = 0.1269","x":1.255,"y":0.080}],
"box": [{"x":-0.538,"x2":1.401,"y":0.1853,"y2":0.23}],
"ttl": [{"t":"Test Field - Vector","x":0.42,"y":0.1997}]
},
"layer": [
{
 "data": {"name": "pts"},
 "mark": {"type": "circle", "size": 13, "color": "#0000ff", "opacity": 1},
 "encoding": {
  "x": {"field": "x", "type": "quantitative", "scale": {"domain": [-1, 2], "nice": false, "zero": false},
   "axis": {"orient": "bottom", "title": "Wind Shear Exponent Mast [-]",
    "values": [-1,-0.96,-0.92,-0.88,-0.84,-0.8,-0.76,-0.72,-0.68,-0.64,-0.6,-0.56,-0.52,-0.48,-0.44,-0.4,-0.36,-0.32,-0.28,-0.24,-0.2,-0.16,-0.12,-0.08,-0.04,0,0.04,0.08,0.12,0.16,0.2,0.24,0.28,0.32,0.36,0.4,0.44,0.48,0.52,0.56,0.6,0.64,0.68,0.72,0.76,0.8,0.84,0.88,0.92,0.96,1,1.04,1.08,1.12,1.16,1.2,1.24,1.28,1.32,1.36,1.4,1.44,1.48,1.52,1.56,1.6,1.64,1.68,1.72,1.76,1.8,1.84,1.88,1.92,1.96,2],
    "labelExpr": "abs(datum.value*5 - round(datum.value*5)) < 0.01 ? replace(format(datum.value, '.1f'), '\u2212', '-') : ''",
    "grid": true,
    "gridOpacity": {"condition": {"test": "abs(datum.value*5 - round(datum.value*5)) < 0.01", "value": 1}, "value": 0},
    "tickSize": {"condition": {"test": "abs(datum.value*5 - round(datum.value*5)) < 0.01", "value": -8}, "value": -4},
    "labelPadding": 12, "titlePadding": 4}},
  "y": {"field": "y", "type": "quantitative", "scale": {"domain": [-0.1, 0.2], "nice": false, "zero": false},
   "axis": {"orient": "left", "title": "Deviation Vector RSD - Scalar Ref [-]",
    "values": [-0.1,-0.095,-0.09,-0.085,-0.08,-0.075,-0.07,-0.065,-0.06,-0.055,-0.05,-0.045,-0.04,-0.035,-0.03,-0.025,-0.02,-0.015,-0.01,-0.005,0,0.005,0.01,0.015,0.02,0.025,0.03,0.035,0.04,0.045,0.05,0.055,0.06,0.065,0.07,0.075,0.08,0.085,0.09,0.095,0.1,0.105,0.11,0.115,0.12,0.125,0.13,0.135,0.14,0.145,0.15,0.155,0.16,0.165,0.17,0.175,0.18,0.185,0.19,0.195,0.2],
    "labelExpr": "abs(datum.value*20 - round(datum.value*20)) < 0.01 ? replace(format(datum.value, '.2f'), '\u2212', '-') : ''",
    "grid": true,
    "gridOpacity": {"condition": {"test": "abs(datum.value*20 - round(datum.value*20)) < 0.01", "value": 1}, "value": 0},
    "tickSize": {"condition": {"test": "abs(datum.value*20 - round(datum.value*20)) < 0.01", "value": -8}, "value": -4},
    "labelPadding": 20, "titlePadding": 8, "titleY": 205}}
 }
},
{
 "data": {"name": "fit"},
 "mark": {"type": "line", "color": "#ff0000", "strokeWidth": 2},
 "encoding": {
  "x": {"field": "x", "type": "quantitative", "scale": {"domain": [-1, 2], "nice": false, "zero": false},
   "axis": {"orient": "top", "title": null, "labels": false, "grid": false,
    "values": [-1,-0.96,-0.92,-0.88,-0.84,-0.8,-0.76,-0.72,-0.68,-0.64,-0.6,-0.56,-0.52,-0.48,-0.44,-0.4,-0.36,-0.32,-0.28,-0.24,-0.2,-0.16,-0.12,-0.08,-0.04,0,0.04,0.08,0.12,0.16,0.2,0.24,0.28,0.32,0.36,0.4,0.44,0.48,0.52,0.56,0.6,0.64,0.68,0.72,0.76,0.8,0.84,0.88,0.92,0.96,1,1.04,1.08,1.12,1.16,1.2,1.24,1.28,1.32,1.36,1.4,1.44,1.48,1.52,1.56,1.6,1.64,1.68,1.72,1.76,1.8,1.84,1.88,1.92,1.96,2],
    "tickSize": {"condition": {"test": "abs(datum.value*5 - round(datum.value*5)) < 0.01", "value": -8}, "value": -4}}},
  "y": {"field": "y", "type": "quantitative", "scale": {"domain": [-0.1, 0.2], "nice": false, "zero": false},
   "axis": {"orient": "right", "title": null, "labels": false, "grid": false,
    "values": [-0.1,-0.095,-0.09,-0.085,-0.08,-0.075,-0.07,-0.065,-0.06,-0.055,-0.05,-0.045,-0.04,-0.035,-0.03,-0.025,-0.02,-0.015,-0.01,-0.005,0,0.005,0.01,0.015,0.02,0.025,0.03,0.035,0.04,0.045,0.05,0.055,0.06,0.065,0.07,0.075,0.08,0.085,0.09,0.095,0.1,0.105,0.11,0.115,0.12,0.125,0.13,0.135,0.14,0.145,0.15,0.155,0.16,0.165,0.17,0.175,0.18,0.185,0.19,0.195,0.2],
    "tickSize": {"condition": {"test": "abs(datum.value*20 - round(datum.value*20)) < 0.01", "value": -8}, "value": -4}}}
 }
},
{
 "data": {"name": "ann"},
 "mark": {"type": "text", "align": "left", "baseline": "alphabetic", "fontSize": 20, "color": "#111111"},
 "encoding": {
  "x": {"field": "x", "type": "quantitative", "scale": {"domain": [-1, 2], "nice": false, "zero": false}, "axis": null},
  "y": {"field": "y", "type": "quantitative", "scale": {"domain": [-0.1, 0.2], "nice": false, "zero": false}, "axis": null},
  "text": {"field": "t"}
 }
},
{
 "data": {"name": "box"},
 "mark": {"type": "rect", "fill": "white", "stroke": "#c00000", "strokeWidth": 2},
 "encoding": {
  "x": {"field": "x", "type": "quantitative", "scale": {"domain": [-1, 2], "nice": false, "zero": false}, "axis": null},
  "x2": {"field": "x2"},
  "y": {"field": "y", "type": "quantitative", "scale": {"domain": [-0.1, 0.2], "nice": false, "zero": false}, "axis": null},
  "y2": {"field": "y2"}
 }
},
{
 "data": {"name": "ttl"},
 "mark": {"type": "text", "align": "center", "baseline": "alphabetic", "fontSize": 50, "color": "#c00000"},
 "encoding": {
  "x": {"field": "x", "type": "quantitative", "scale": {"domain": [-1, 2], "nice": false, "zero": false}, "axis": null},
  "y": {"field": "y", "type": "quantitative", "scale": {"domain": [-0.1, 0.2], "nice": false, "zero": false}, "axis": null},
  "text": {"field": "t"}
 }
}
],
"resolve": {"axis": {"x": "independent", "y": "independent"}}
}
